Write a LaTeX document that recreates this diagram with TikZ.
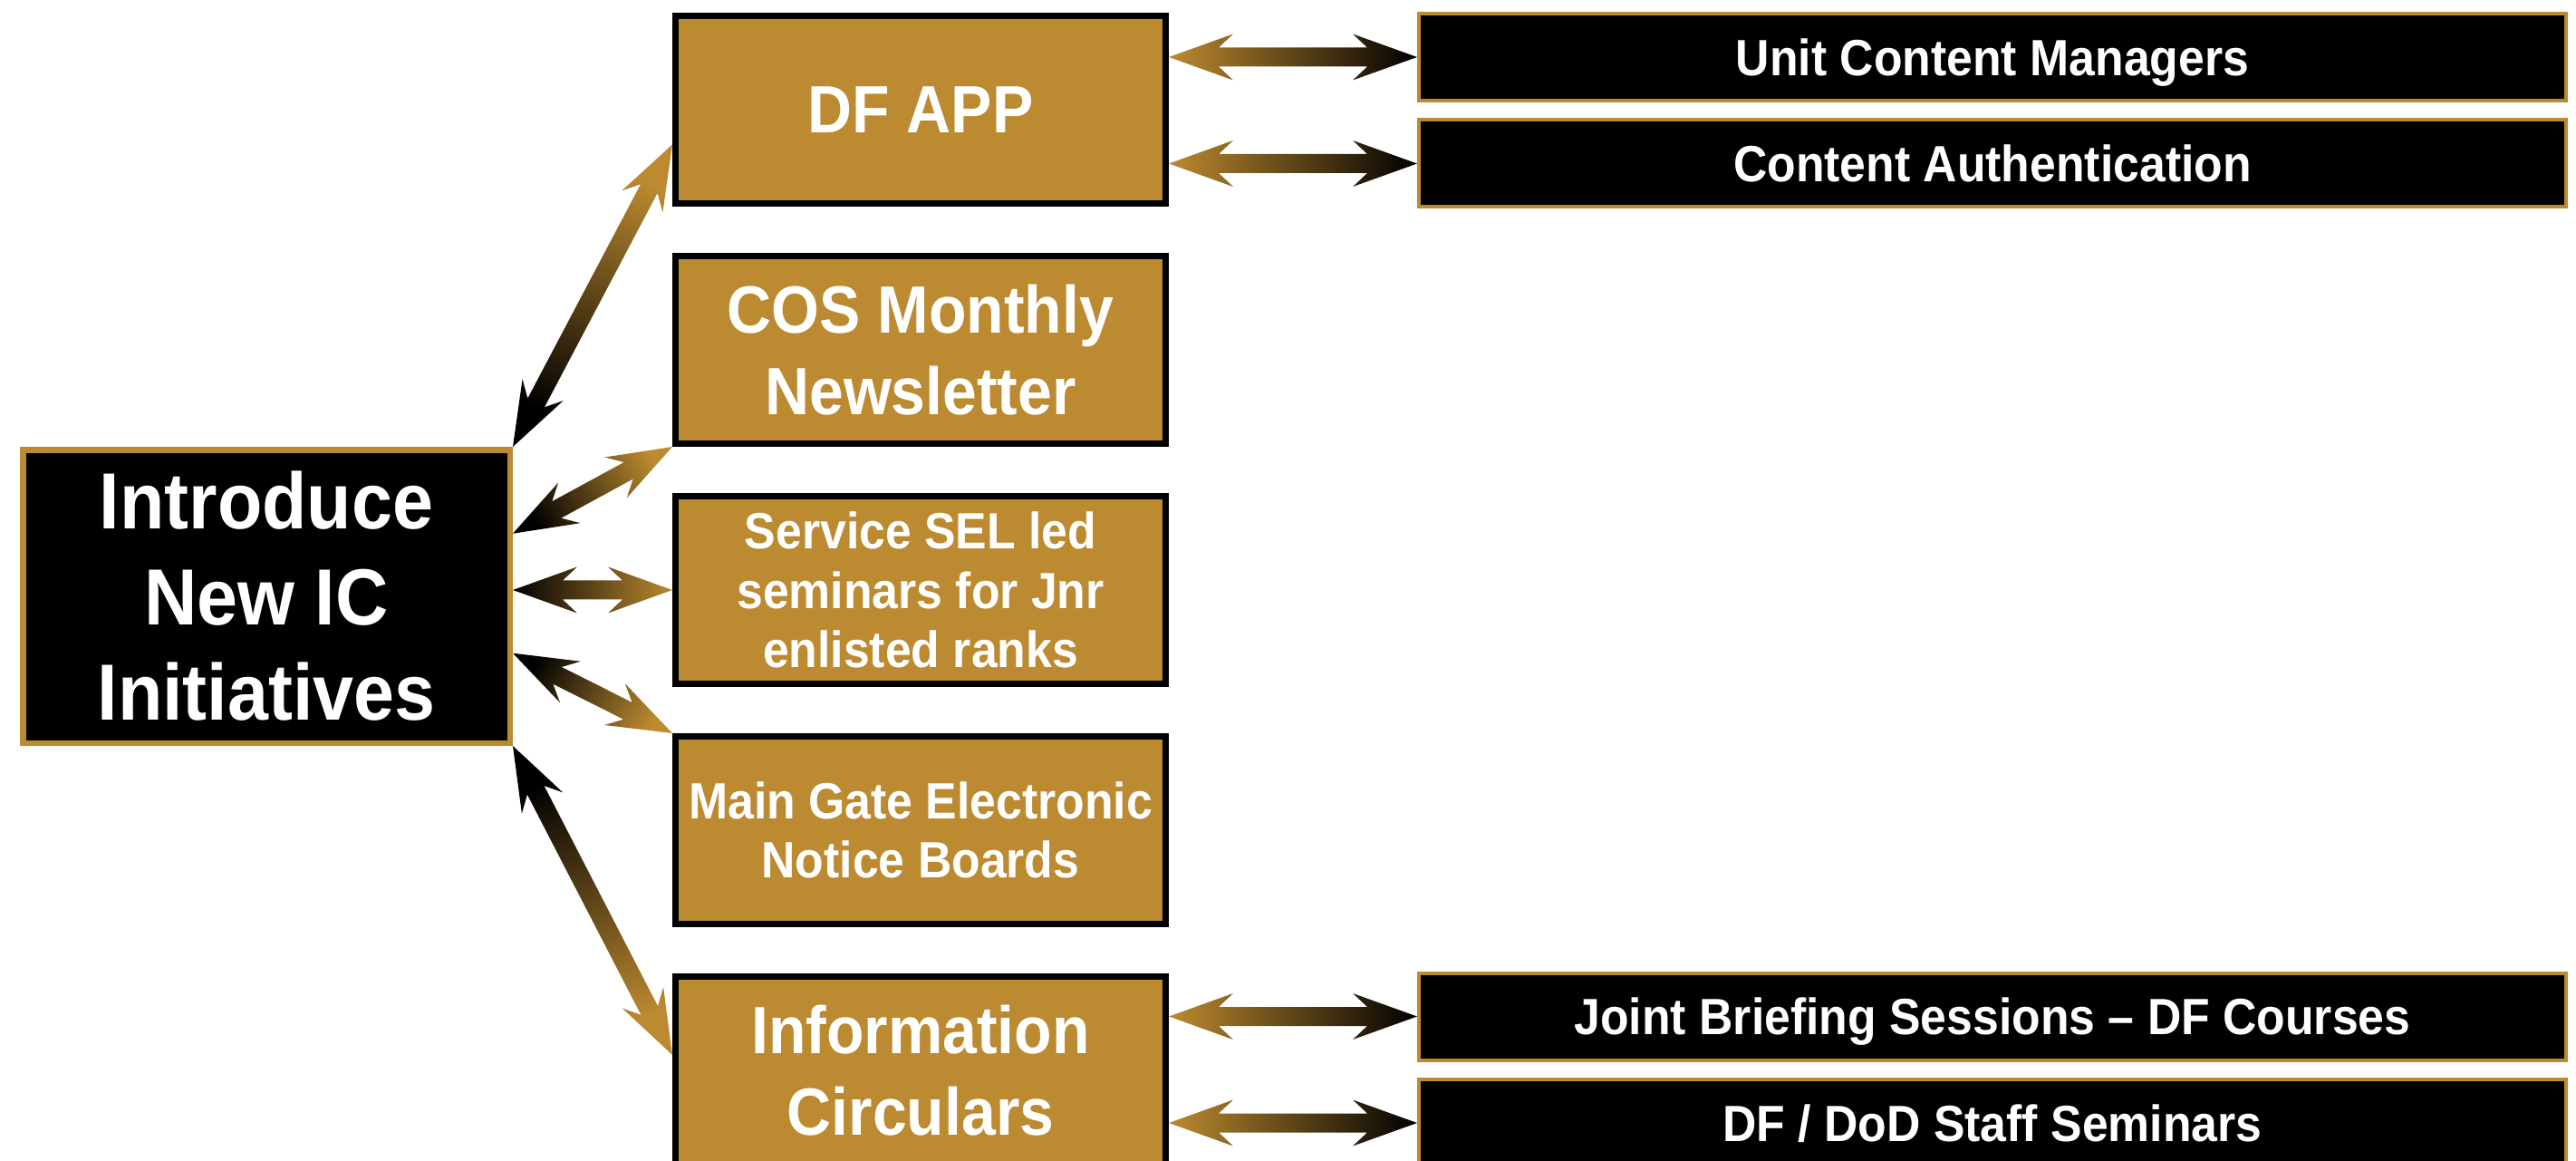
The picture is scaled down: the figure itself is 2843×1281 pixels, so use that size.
\documentclass[tikz,border=0pt]{standalone}
\usepackage{fontspec}
\setmainfont{Liberation Sans}[FakeStretch=0.92]
\usetikzlibrary{positioning, calc}

\definecolor{icgold}{RGB}{188,138,48}

% double headed block arrow, gold at #1, black at #2
\newcommand\iclink[2]{%
  \path (#1) coordinate (lkG) (#2) coordinate (lkK);
  \pgfmathanglebetweenpoints{\pgfpointanchor{lkK}{center}}{\pgfpointanchor{lkG}{center}}%
  \pgfmathsetmacro\lkshade{\pgfmathresult-90}%
  \shade[top color=icgold, bottom color=black, shading angle=\lkshade]
    (lkK) -- ($(lkK)!7.1mm!(lkG)!2.55mm!90:(lkG)$)
    -- ($(lkK)!5.5mm!(lkG)!1.05mm!90:(lkG)$)
    -- ($(lkG)!5.5mm!(lkK)!1.05mm!-90:(lkK)$)
    -- ($(lkG)!7.1mm!(lkK)!2.55mm!-90:(lkK)$)
    -- (lkG)
    -- ($(lkG)!7.1mm!(lkK)!2.55mm!90:(lkK)$)
    -- ($(lkG)!5.5mm!(lkK)!1.05mm!90:(lkK)$)
    -- ($(lkK)!5.5mm!(lkG)!1.05mm!-90:(lkG)$)
    -- ($(lkK)!7.1mm!(lkG)!2.55mm!-90:(lkG)$) -- cycle;
}

\begin{document}
\begin{tikzpicture}[x = 0.1mm, y = 0.1mm,
    node distance = 5.1mm, % gap between the gold boxes
    every node/.style = {text = white, font = \bfseries, align = center, inner sep = 0pt},
    mainbox/.style = {draw = icgold, fill = black, line width = 0.65mm,
      minimum width = 53.75mm, minimum height = 32.35mm,
      font = \bfseries\fontsize{25}{30}\selectfont},
    goldbox/.style = {draw = black, fill = icgold, line width = 0.7mm,
      minimum width = 54.1mm, minimum height = 20.7mm},
    bigtext/.style = {font = \bfseries\fontsize{21}{25.6}\selectfont},
    smalltext/.style = {font = \bfseries\fontsize{16}{18.7}\selectfont},
    blackbox/.style = {draw = icgold, fill = black, line width = 0.4mm,
      minimum width = 126.6mm, minimum height = 9.6mm, text depth = 0pt,
      font = \bfseries\fontsize{16}{19}\selectfont}
  ]

  \useasboundingbox (0,0) rectangle (2843,-1281);

  \node[mainbox] (ic) at (294,-658) {Introduce\\New IC\\Initiatives};

  \node[goldbox, bigtext] (dfapp) at (1016,-121) {DF APP};
  \node[goldbox, bigtext, below = of dfapp] (cos) {COS Monthly\\Newsletter};
  \node[goldbox, smalltext, below = of cos] (sel) {Service SEL led\\seminars for Jnr\\enlisted ranks};
  \node[goldbox, smalltext, below = of sel] (gate) {Main Gate Electronic\\Notice Boards};
  \node[goldbox, bigtext, below = of gate] (info) {Information\\Circulars};

  \node[blackbox] (ucm) at (2199,-63) {Unit Content Managers};
  \node[blackbox, below = 1.75mm of ucm] (auth) {Content Authentication};
  \node[blackbox] (jbs) at (2199,-1121.5) {Joint Briefing Sessions -- DF Courses};
  \node[blackbox, below = 1.75mm of jbs] (dod) {DF / DoD Staff Seminars};

  % links from the main box
  \iclink{$(dfapp.south west)!0.32!(dfapp.north west)$}{ic.north east}
  \iclink{cos.south west}{$(ic.north east)!0.29!(ic.south east)$}
  \iclink{sel.west}{ic.east |- sel.west}
  \iclink{gate.north west}{$(ic.north east)!0.69!(ic.south east)$}
  \iclink{$(info.south west)!0.58!(info.north west)$}{ic.south east}

  % links to the black boxes
  \iclink{dfapp.east |- ucm.west}{ucm.west}
  \iclink{dfapp.east |- auth.west}{auth.west}
  \iclink{info.east |- jbs.west}{jbs.west}
  \iclink{info.east |- dod.west}{dod.west}
\end{tikzpicture}
\end{document}
